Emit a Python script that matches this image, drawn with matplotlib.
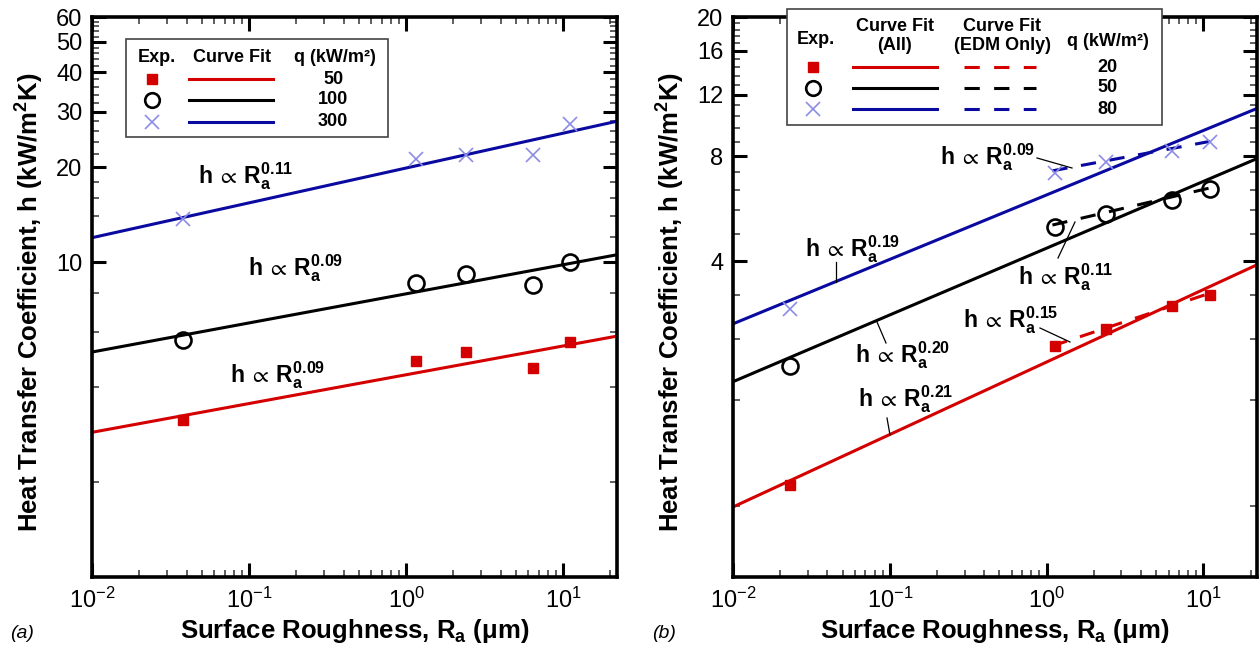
import numpy as np
import matplotlib
matplotlib.use('Agg')
import matplotlib.pyplot as plt
from matplotlib.lines import Line2D
from matplotlib.patches import Rectangle
from matplotlib.ticker import FixedLocator, NullFormatter

plt.rcParams['font.family'] = ['Liberation Sans', 'DejaVu Sans']
plt.rcParams['mathtext.fontset'] = 'dejavusans'

# ---------------- data ----------------
# panel (a)
ra_a = [0.038, 1.16, 2.42, 6.4, 11.0]
h_a_50 = [3.15, 4.85, 5.18, 4.61, 5.57]
h_a_100 = [5.66, 8.59, 9.18, 8.47, 10.0]
h_a_300 = [13.7, 21.2, 21.8, 21.8, 27.4]
fit_x = [0.01, 22.0]
fit_a_50 = [2.88, 5.82]
fit_a_100 = [5.18, 10.55]
fit_a_300 = [11.95, 28.0]
q_a = ['50', '100', '300']
exp_a = ['0.09', '0.09', '0.11']

# panel (b)
ra_b = [0.023, 1.14, 2.4, 6.3, 11.0]
h_b_20 = [0.918, 2.29, 2.56, 2.99, 3.21]
h_b_50 = [2.01, 5.02, 5.48, 6.0, 6.44]
h_b_80 = [2.92, 7.18, 7.72, 8.28, 8.75]
fit_b_20 = [0.793, 3.91]
fit_b_50 = [1.81, 7.87]
fit_b_80 = [2.65, 10.95]
edm_x = [1.09, 11.4]
edm_b_20 = [2.29, 3.26]
edm_b_50 = [5.08, 6.51]
edm_b_80 = [7.26, 8.84]
q_b = ['20', '50', '80']

xmajor = [1e-2, 1e-1, 1e0, 1e1]
xmajor_labels = [r'$\mathregular{10^{-2}}$', r'$\mathregular{10^{-1}}$',
                 r'$\mathregular{10^{0}}$', r'$\mathregular{10^{1}}$']
ya_major = [10, 20, 30, 40, 50, 60]
yb_major = [4, 8, 12, 16, 20]

# ---------------- style ----------------
W, H = 1259, 649
RED = '#d40000'
BLK = '#000000'
BLU = '#0a0aa0'
LBL = '#8c8ce6'
LW = 2.2
DASH = (5, 4.5)

fig = plt.figure(figsize=(W / 100, H / 100), dpi=100)


def fx(x):
    return x / W


def fy(y):
    return 1 - y / H


axA = fig.add_axes([fx(92), fy(577), (617 - 92) / W, (577 - 17) / H])
axB = fig.add_axes([fx(733), fy(577), (1257 - 733) / W, (577 - 17) / H])


def style_axis(ax, ymin, ymax, ymaj, ymin_ticks):
    ax.set_xscale('log')
    ax.set_yscale('log')
    ax.set_xlim(fit_x[0], fit_x[1])
    ax.set_ylim(ymin, ymax)
    ax.xaxis.set_major_locator(FixedLocator(xmajor))
    ax.set_xticklabels(xmajor_labels)
    xm = [m * d for d in [1e-2, 1e-1, 1e0, 1e1] for m in range(2, 10)]
    ax.xaxis.set_minor_locator(FixedLocator(xm))
    ax.xaxis.set_minor_formatter(NullFormatter())
    ax.yaxis.set_major_locator(FixedLocator(ymaj))
    ax.set_yticklabels([str(v) for v in ymaj])
    ax.yaxis.set_minor_locator(FixedLocator(ymin_ticks))
    ax.yaxis.set_minor_formatter(NullFormatter())
    ax.tick_params(which='both', direction='in', top=True, right=True,
                   labelsize=17)
    ax.tick_params(which='major', length=10, width=2.2, pad=7)
    ax.tick_params(which='minor', length=5, width=1.1, color='#333333')
    ax.tick_params(axis='x', which='major', pad=8)
    for s in ax.spines.values():
        s.set_linewidth(2.6)
    ax.set_xlabel(r'Surface Roughness, $\mathregular{R_a}$ (μm)',
                  fontsize=18.5, fontweight='bold')
    ax.set_ylabel(r'Heat Transfer Coefficient, h (kW/$\mathregular{m^2}$K)',
                  fontsize=18.5, fontweight='bold')
    ax.xaxis.set_label_coords(0.5, -0.071)
    ax.yaxis.set_label_coords(-0.088, 0.49)


ya_minor = [2, 4, 6, 8, 12, 14, 16, 18] + [v for v in range(22, 60, 2) if v % 10 != 0]
yb_minor = [round(i * 0.8, 2) for i in range(1, 25) if i % 5 != 0]
style_axis(axA, 1, 60, ya_major, ya_minor)
style_axis(axB, 0.5, 20, yb_major, yb_minor)

# ---------------- panel (a) ----------------
axA.plot(fit_x, fit_a_50, color=RED, lw=LW)
axA.plot(fit_x, fit_a_100, color=BLK, lw=LW)
axA.plot(fit_x, fit_a_300, color=BLU, lw=LW)
axA.plot(ra_a, h_a_50, 's', color=RED, ms=7.2, mec=RED)
axA.plot(ra_a, h_a_100, 'o', mfc='none', mec=BLK, ms=11.5, mew=1.9)
axA.plot(ra_a, h_a_300, 'x', color=LBL, ms=10, mew=1.2)

# ---------------- panel (b) ----------------
axB.plot(fit_x, fit_b_20, color=RED, lw=LW)
axB.plot(fit_x, fit_b_50, color=BLK, lw=LW)
axB.plot(fit_x, fit_b_80, color=BLU, lw=LW)
axB.plot(edm_x, edm_b_20, color=RED, lw=LW, dashes=DASH)
axB.plot(edm_x, edm_b_50, color=BLK, lw=LW, dashes=DASH)
axB.plot(edm_x, edm_b_80, color=BLU, lw=LW, dashes=DASH)
axB.plot(ra_b, h_b_20, 's', color=RED, ms=7.2, mec=RED)
axB.plot(ra_b, h_b_50, 'o', mfc='none', mec=BLK, ms=11.5, mew=1.9)
axB.plot(ra_b, h_b_80, 'x', color=LBL, ms=10, mew=1.2)


# ---------------- annotations ----------------
def ann(x, y, e):
    fig.text(fx(x), fy(y), r'$\mathregular{h\,\propto\,R_a^{%s}}$' % e,
             fontsize=16.5, fontweight='bold', ha='left', va='baseline', zorder=5)


def leader(x0, y0, x1, y1):
    fig.add_artist(Line2D([fx(x0), fx(x1)], [fy(y0), fy(y1)], color='black',
                          lw=0.9, transform=fig.transFigure, zorder=5))


ann(198, 183, exp_a[2])
ann(248, 275, exp_a[1])
ann(230, 382, exp_a[0])

ann(940, 164, '0.09')
leader(1037, 158, 1072, 168)
ann(805, 256, '0.19')
leader(836, 262, 836, 282)
ann(1018, 284, '0.11')
leader(1058, 258, 1075, 222)
ann(855, 362, '0.20')
leader(877, 322, 886, 343)
ann(963, 327, '0.15')
leader(1040, 328, 1070, 342)
ann(858, 406, '0.21')
leader(887, 418, 890, 435)


# ---------------- legends ----------------
def box(x0, y0, x1, y1):
    fig.add_artist(Rectangle((fx(x0), fy(y1)), fx(x1 - x0), (y1 - y0) / H,
                             transform=fig.transFigure, facecolor='white',
                             edgecolor='#444444', lw=1.2, zorder=4))


def t(x, y, s, **kw):
    fig.text(fx(x), fy(y), s, fontsize=13, fontweight='bold', ha='center',
             va='center', zorder=6, **kw)


def mk(x, y, m, **kw):
    fig.add_artist(Line2D([fx(x)], [fy(y)], marker=m, linestyle='none',
                          transform=fig.transFigure, zorder=6, **kw))


def ln(x0, x1, y, color, dashes=None):
    l = Line2D([fx(x0), fx(x1)], [fy(y), fy(y)], color=color, lw=LW,
               transform=fig.transFigure, zorder=6)
    if dashes:
        l.set_dashes(dashes)
    fig.add_artist(l)


marker_kw = [dict(m='s', color=RED, mec=RED, ms=7.2),
             dict(m='o', mfc='none', mec=BLK, ms=10.5, mew=1.9),
             dict(m='x', color=LBL, ms=10, mew=1.2)]
colors = [RED, BLK, BLU]

# legend (a)
box(126, 39, 388, 137)
t(157, 58, 'Exp.')
t(232, 58, 'Curve Fit')
t(335, 58, 'q (kW/m²)')
for i, yy in enumerate([79, 100, 122]):
    kw = dict(marker_kw[i])
    m = kw.pop('m')
    mk(152, yy, m, **kw)
    ln(189, 273, yy, colors[i])
    t(333, yy, q_a[i])

# legend (b)
box(787, 9, 1162, 125)
t(816, 40, 'Exp.')
t(895, 36, 'Curve Fit\n(All)', linespacing=1.2)
t(1002, 36, 'Curve Fit\n(EDM Only)', linespacing=1.2)
t(1108, 42, 'q (kW/m²)')
for i, yy in enumerate([67, 88, 109]):
    kw = dict(marker_kw[i])
    m = kw.pop('m')
    mk(813, yy, m, **kw)
    ln(853, 937, yy, colors[i])
    ln(964, 1036, yy, colors[i], dashes=(5, 4.7))
    t(1107, yy, q_b[i])

# panel labels
fig.text(fx(10), fy(633), '(a)', fontsize=14, fontstyle='italic', va='center')
fig.text(fx(652), fy(633), '(b)', fontsize=14, fontstyle='italic', va='center')

fig.savefig('out.png', dpi=100)
